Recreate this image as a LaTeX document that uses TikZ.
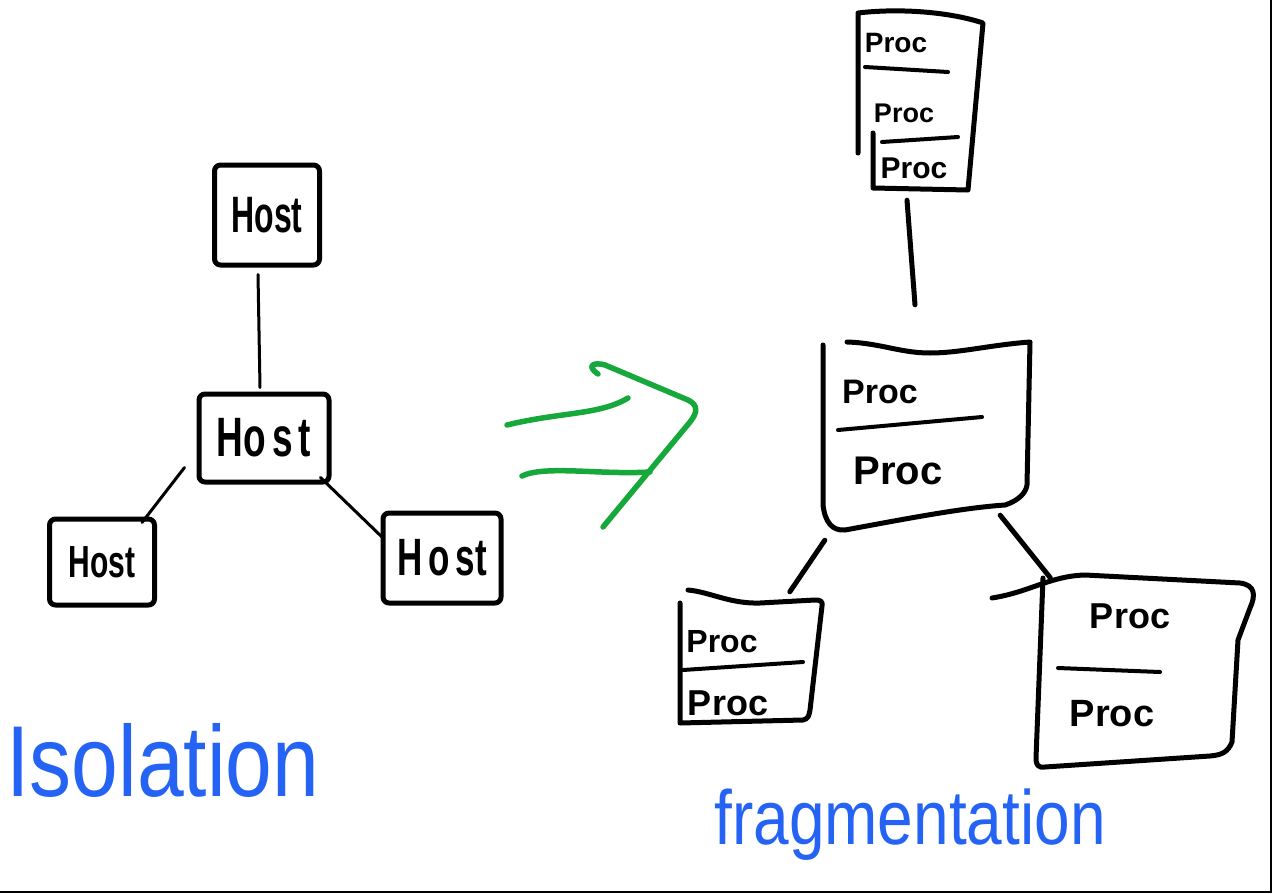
\documentclass[tikz,border=0pt]{standalone}
\usepackage{fontspec}
\setmainfont{Liberation Sans}
\usetikzlibrary{calc}
\definecolor{inkblue}{RGB}{37,99,245}
\definecolor{inkgreen}{RGB}{22,168,58}
\tikzset{
  ink/.style={line width=5pt, line cap=round, line join=round},
  thinink/.style={line width=3pt, line cap=round},
  hostbox/.style={draw, ink, rounded corners=6pt, inner sep=0pt},
  frame/.style={inner sep=0pt},
  divider/.style={line width=4pt, line cap=round},
  lbl/.style={inner sep=0pt, font=\bfseries},
  bluetext/.style={inner sep=0pt, text=inkblue},
  arrowink/.style={inkgreen, line width=5.5pt, line cap=round, line join=round},
}
\newcommand{\tallfont}[3]{\scalebox{1}[#2]{\fontsize{#1}{#1}\selectfont #3}}
\begin{document}
\begin{tikzpicture}[x=1pt,y=-1pt]
\useasboundingbox (0,0) rectangle (1272,894);
\fill[white] (0,0) rectangle (1272,894);
% frame edges
\draw[line width=2pt] (0,892) -- (1271,892) -- (1271,0);

% ---------- Isolation side ----------
\node[hostbox, font=\bfseries, minimum width=105pt, minimum height=100pt] (h1) at (267,215) {\tallfont{32}{1.6}{Host}};
\node[hostbox, font=\bfseries, minimum width=130pt, minimum height=88pt] (h2) at (264,438) {\tallfont{37}{1.5}{Ho\,s\,t}};
\node[hostbox, font=\bfseries, minimum width=105pt, minimum height=86pt] (h3) at (102,562) {\tallfont{30}{1.5}{Host}};
\node[hostbox, font=\bfseries, minimum width=118pt, minimum height=90pt] (h4) at (442,558) {\tallfont{35}{1.5}{H\,o\,st}};

\draw[thinink] ([shift={(-9,7)}]h1.south) -- ([shift={(-4,-4)}]h2.north);
\draw[thinink] ([shift={(-12,-17)}]h2.south west) -- ([shift={(-15,6)}]h3.north east);
\draw[thinink] ([shift={(-11,-7)}]h2.south east) -- ([shift={(2,27)}]h4.north west);

\node[bluetext] (iso) at (163,760) {\tallfont{84}{1.2}{Isolation}};

% ---------- green arrow ----------
\coordinate (a1s) at (507,425);
\coordinate (a1e) at (628,398);
\coordinate (a2s) at (522,476);
\coordinate (a2e) at (650,472);
\coordinate (c1) at (598,374);
\coordinate (c3) at (603,527);
\draw[arrowink] (a1s) .. controls (560,412) and (600,415) .. (a1e);
\draw[arrowink] (a2s) .. controls (545,465) and (600,475) .. (a2e);
\draw[arrowink] (c1) .. controls (585,365) and (595,362) .. (605,365)
  -- (688,400) .. controls (698,405) and (698,412) .. (690,422) -- (c3);

% ---------- Fragmentation side ----------
% top stack
\node[frame, minimum width=125pt, minimum height=180pt] (p1) at (920,100) {};
\draw[ink] (858,153) -- (858,13) .. controls (900,8) and (950,12) .. (983,23)
  -- (968,190) -- (873,188) -- (873,133);
\draw[divider] (865,67) -- (948,72);
\draw[divider] (882,142) -- (958,137);
\node[lbl] (p1a) at (896,43) {\fontsize{28}{28}\selectfont Proc};
\node[lbl] (p1b) at (904,113) {\fontsize{27}{27}\selectfont Proc};
\node[lbl] (p1c) at (914,168) {\fontsize{30}{30}\selectfont Proc};

% middle box
\node[frame, minimum width=208pt, minimum height=190pt] (p2) at (926,436) {};
\draw[ink] (823,345) -- (823,505) .. controls (825,522) and (832,531) .. (845,530)
  .. controls (900,520) and (960,508) .. (1005,505)
  .. controls (1020,500) and (1026,492) .. (1027,485) -- (1030,342)
  .. controls (990,345) and (960,353) .. (930,353)
  .. controls (900,353) and (880,343) .. (847,342);
\draw[divider] (838,430) -- (982,417);
\node[lbl] (p2a) at (880,392) {\fontsize{34}{34}\selectfont Proc};
\node[lbl] (p2b) at (898,471) {\fontsize{40}{40}\selectfont Proc};

% bottom-left box
\node[frame, minimum width=152pt, minimum height=128pt] (p3) at (752,661) {};
\draw[ink] (680,603) -- (680,723) -- (803,720) .. controls (808,719) and (809,716) .. (810,710)
  -- (822,606) .. controls (823,601) and (820,600) .. (815,600)
  -- (760,603) .. controls (730,604) and (710,592) .. (688,590);
\draw[divider] (683,670) -- (803,662);
\node[lbl] (p3a) at (722,642) {\fontsize{32}{32}\selectfont Proc};
\node[lbl] (p3b) at (728,703) {\fontsize{36}{36}\selectfont Proc};

% bottom-right box
\node[frame, minimum width=223pt, minimum height=192pt] (p4) at (1146,674) {};
\draw[ink] (992,598) .. controls (1030,592) and (1050,576) .. (1085,575)
  -- (1240,583) .. controls (1255,585) and (1256,595) .. (1250,608)
  -- (1238,640) -- (1232,742) .. controls (1228,752) and (1222,755) .. (1210,756)
  -- (1045,767) .. controls (1038,768) and (1036,765) .. (1036,758) -- (1043,578);
\draw[divider] (1058,668) -- (1160,672);
\node[lbl] (p4a) at (1130,616) {\fontsize{36}{36}\selectfont Proc};
\node[lbl] (p4b) at (1112,714) {\fontsize{38}{38}\selectfont Proc};

% connectors
\draw[ink] ([shift={(-13,10)}]p1.south) -- ([shift={(-11,-36)}]p2.north);
\draw[ink] ([shift={(3,9)}]p2.south west) -- ([shift={(114,-5)}]p3.north west);
\draw[ink] ([shift={(-30,-16)}]p2.south east) -- ([shift={(16,0)}]p4.north west);

\node[bluetext] (frag) at (910,825) {\tallfont{64}{1.2}{fragmentation}};
\end{tikzpicture}
\end{document}
